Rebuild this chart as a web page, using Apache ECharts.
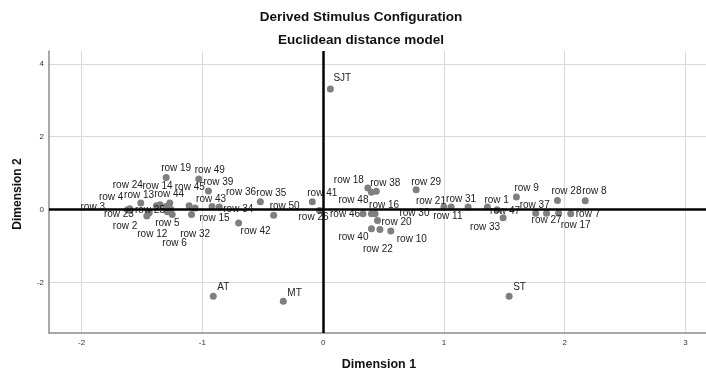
<!DOCTYPE html>
<html>
<head>
<meta charset="utf-8">
<script src="https://cdn.jsdelivr.net/npm/echarts@6/dist/echarts.min.js"></script>
<style>
  html, body { margin: 0; padding: 0; background: #fff; }
  #chart { width: 706px; height: 374px; }
</style>
</head>
<body>
<div id="chart"></div>
<script>
// row points (object coordinates)
const rowNames = ['row 1', 'row 2', 'row 3', 'row 4', 'row 5', 'row 6', 'row 7', 'row 8', 'row 9', 'row 10',
  'row 11', 'row 12', 'row 13', 'row 14', 'row 15', 'row 16', 'row 17', 'row 18', 'row 19', 'row 20',
  'row 21', 'row 22', 'row 23', 'row 24', 'row 25', 'row 26', 'row 27', 'row 28', 'row 29', 'row 30',
  'row 31', 'row 32', 'row 33', 'row 34', 'row 35', 'row 36', 'row 37', 'row 38', 'row 39', 'row 40',
  'row 41', 'row 42', 'row 43', 'row 44', 'row 45', 'row 46', 'row 47', 'row 48', 'row 49', 'row 50']
const rowDim1 = [1.36, -1.46, -1.62, -1.60, -1.25, -1.29, 2.05, 2.17, 1.60, 0.56,
  1.06, -1.44, -1.35, -1.38, -1.09, 0.43, 1.95, 0.37, -1.30, 0.45,
  1.00, 0.47, -1.60, -1.51, -1.26, -0.03, 1.85, 1.94, 0.77, 0.40,
  1.20, -1.06, 1.49, -0.86, -0.52, -0.92, 1.76, 0.44, -0.95, 0.40,
  -0.09, -0.70, -1.11, -1.30, -1.27, 0.33, 1.44, 0.40, -1.03, -0.41]
const rowDim2 = [0.07, -0.18, -0.01, 0.02, -0.14, -0.06, -0.12, 0.24, 0.34, -0.59,
  0.07, -0.09, 0.13, 0.10, -0.14, -0.12, -0.10, 0.59, 0.88, -0.30,
  0.07, -0.55, -0.03, 0.18, 0.00, -0.03, -0.10, 0.25, 0.54, -0.12,
  0.07, 0.04, -0.23, 0.07, 0.21, 0.08, -0.10, 0.50, 0.51, -0.53,
  0.21, -0.37, 0.10, 0.08, 0.18, -0.12, -0.01, 0.47, 0.84, -0.16]

// stimulus points
const stimNames = ['SJT', 'AT', 'MT', 'ST']
const stimDim1 = [0.06, -0.91, -0.33, 1.54]
const stimDim2 = [3.31, -2.38, -2.52, -2.38]

// axis ranges / reference lines
const xRange = [-2.27, 3.17]
const yRange = [-3.39, 4.35]
const zeroLines = [0]

//标签相对点的偏移(px)，仿照原图避免重叠的摆放
const labelShift = {
  'row 1': [-3, -7], 'row 2': [-34, 10], 'row 3': [-47, -3], 'row 4': [-31, -12], 'row 5': [-17, 9],
  'row 6': [-5, 32], 'row 7': [5, 0], 'row 8': [-3, -9], 'row 9': [-2, -9], 'row 10': [6, 8],
  'row 11': [-18, 9], 'row 12': [-12, 21], 'row 13': [-36, -10], 'row 14': [-14, -20], 'row 15': [8, 4],
  'row 16': [-6, -9], 'row 17': [2, 12], 'row 18': [-34, -8], 'row 19': [-5, -9], 'row 20': [4, 2],
  'row 21': [-28, -6], 'row 22': [-17, 20], 'row 23': [-26, 4], 'row 24': [-28, -18], 'row 25': [-36, 1],
  'row 26': [-21, 7], 'row 27': [-15, 7], 'row 28': [-6, -9], 'row 29': [-5, -8], 'row 30': [28, -1],
  'row 31': [-22, -8], 'row 32': [-15, 26], 'row 33': [-33, 9], 'row 34': [4, 2], 'row 35': [-4, -9],
  'row 36': [14, -14], 'row 37': [-16, -8], 'row 38': [-6, -8], 'row 39': [-5, -9], 'row 40': [-33, 8],
  'row 41': [-5, -9], 'row 42': [2, 8], 'row 43': [7, -7], 'row 44': [-12, -12], 'row 45': [5, -16],
  'row 46': [-33, 0], 'row 47': [-7, 1], 'row 48': [-33, 8], 'row 49': [-4, -9], 'row 50': [-4, -9],
  'SJT': [3, -11]
}

const half = 3.5
function withLabel(name, value) {
  const s = labelShift[name] || [4, -8.5]
  return { name: name, value: value, label: { position: [half + s[0], half + s[1]] } }
}

const rowData = rowNames.map((n, i) => withLabel(n, [rowDim1[i], rowDim2[i]]))
const stimData = stimNames.map((n, i) => withLabel(n, [stimDim1[i], stimDim2[i]]))

const myChart = echarts.init(document.getElementById('chart'), null, { renderer: 'canvas' })

//点的标签
const pointLabel = {
  show: true,
  formatter: '{b}',
  align: 'left',
  verticalAlign: 'middle',
  fontFamily: 'Liberation Sans',
  fontSize: 10,
  color: '#222'
}

const option = {
  animation: false,
  backgroundColor: '#fff',
  textStyle: { fontFamily: 'Liberation Sans' },
  grid: {
    left: 49,
    right: 0,
    top: 51,
    bottom: 41
  },
  graphic: [
    { type: 'text', x: 361, y: 17, style: { text: 'Derived Stimulus Configuration', font: 'bold 13.5px Liberation Sans', fill: '#111', textAlign: 'center', textVerticalAlign: 'middle' } },
    { type: 'text', x: 361, y: 40, style: { text: 'Euclidean distance model', font: 'bold 13.5px Liberation Sans', fill: '#111', textAlign: 'center', textVerticalAlign: 'middle' } },
    { type: 'text', x: 379, y: 365, style: { text: 'Dimension 1', font: 'bold 12.5px Liberation Sans', fill: '#111', textAlign: 'center', textVerticalAlign: 'middle' } },
    { type: 'text', x: 18, y: 194, rotation: Math.PI / 2, style: { text: 'Dimension 2', font: 'bold 12px Liberation Sans', fill: '#111', textAlign: 'center', textVerticalAlign: 'middle' } }
  ],
  xAxis: {
    type: 'value',
    min: xRange[0],
    max: xRange[1],
    axisLine: { show: true, onZero: false, lineStyle: { color: '#8c8c8c', width: 1.5 } },
    axisTick: { show: false },
    axisLabel: { showMinLabel: false, showMaxLabel: false, fontSize: 8, color: '#333', margin: 6 },
    splitLine: { show: true, showMinLine: false, showMaxLine: false, lineStyle: { color: '#d9d9d9', width: 1 } }
  },
  yAxis: {
    type: 'value',
    min: yRange[0],
    max: yRange[1],
    axisLine: { show: true, onZero: false, lineStyle: { color: '#8c8c8c', width: 1.5 } },
    axisTick: { show: false },
    axisLabel: { showMinLabel: false, showMaxLabel: false, fontSize: 8, color: '#333', margin: 5 },
    splitLine: { show: true, showMinLine: false, showMaxLine: false, lineStyle: { color: '#d9d9d9', width: 1 } }
  },
  series: [
    {
      // 零线
      type: 'scatter',
      data: [],
      z: 1,
      markLine: {
        silent: true,
        symbol: 'none',
        label: { show: false },
        lineStyle: { color: '#000', width: 2.5, type: 'solid' },
        data: [
          { xAxis: zeroLines[0] },
          { yAxis: zeroLines[0] }
        ]
      }
    },
    {
      name: 'rows',
      type: 'scatter',
      z: 3,
      symbolSize: 7,
      itemStyle: { color: '#7f7f7f', opacity: 1 },
      label: pointLabel,
      data: rowData
    },
    {
      name: 'stimuli',
      type: 'scatter',
      z: 3,
      symbolSize: 7,
      itemStyle: { color: '#7f7f7f', opacity: 1 },
      label: pointLabel,
      data: stimData
    }
  ]
}

myChart.setOption(option)
</script>
</body>
</html>
